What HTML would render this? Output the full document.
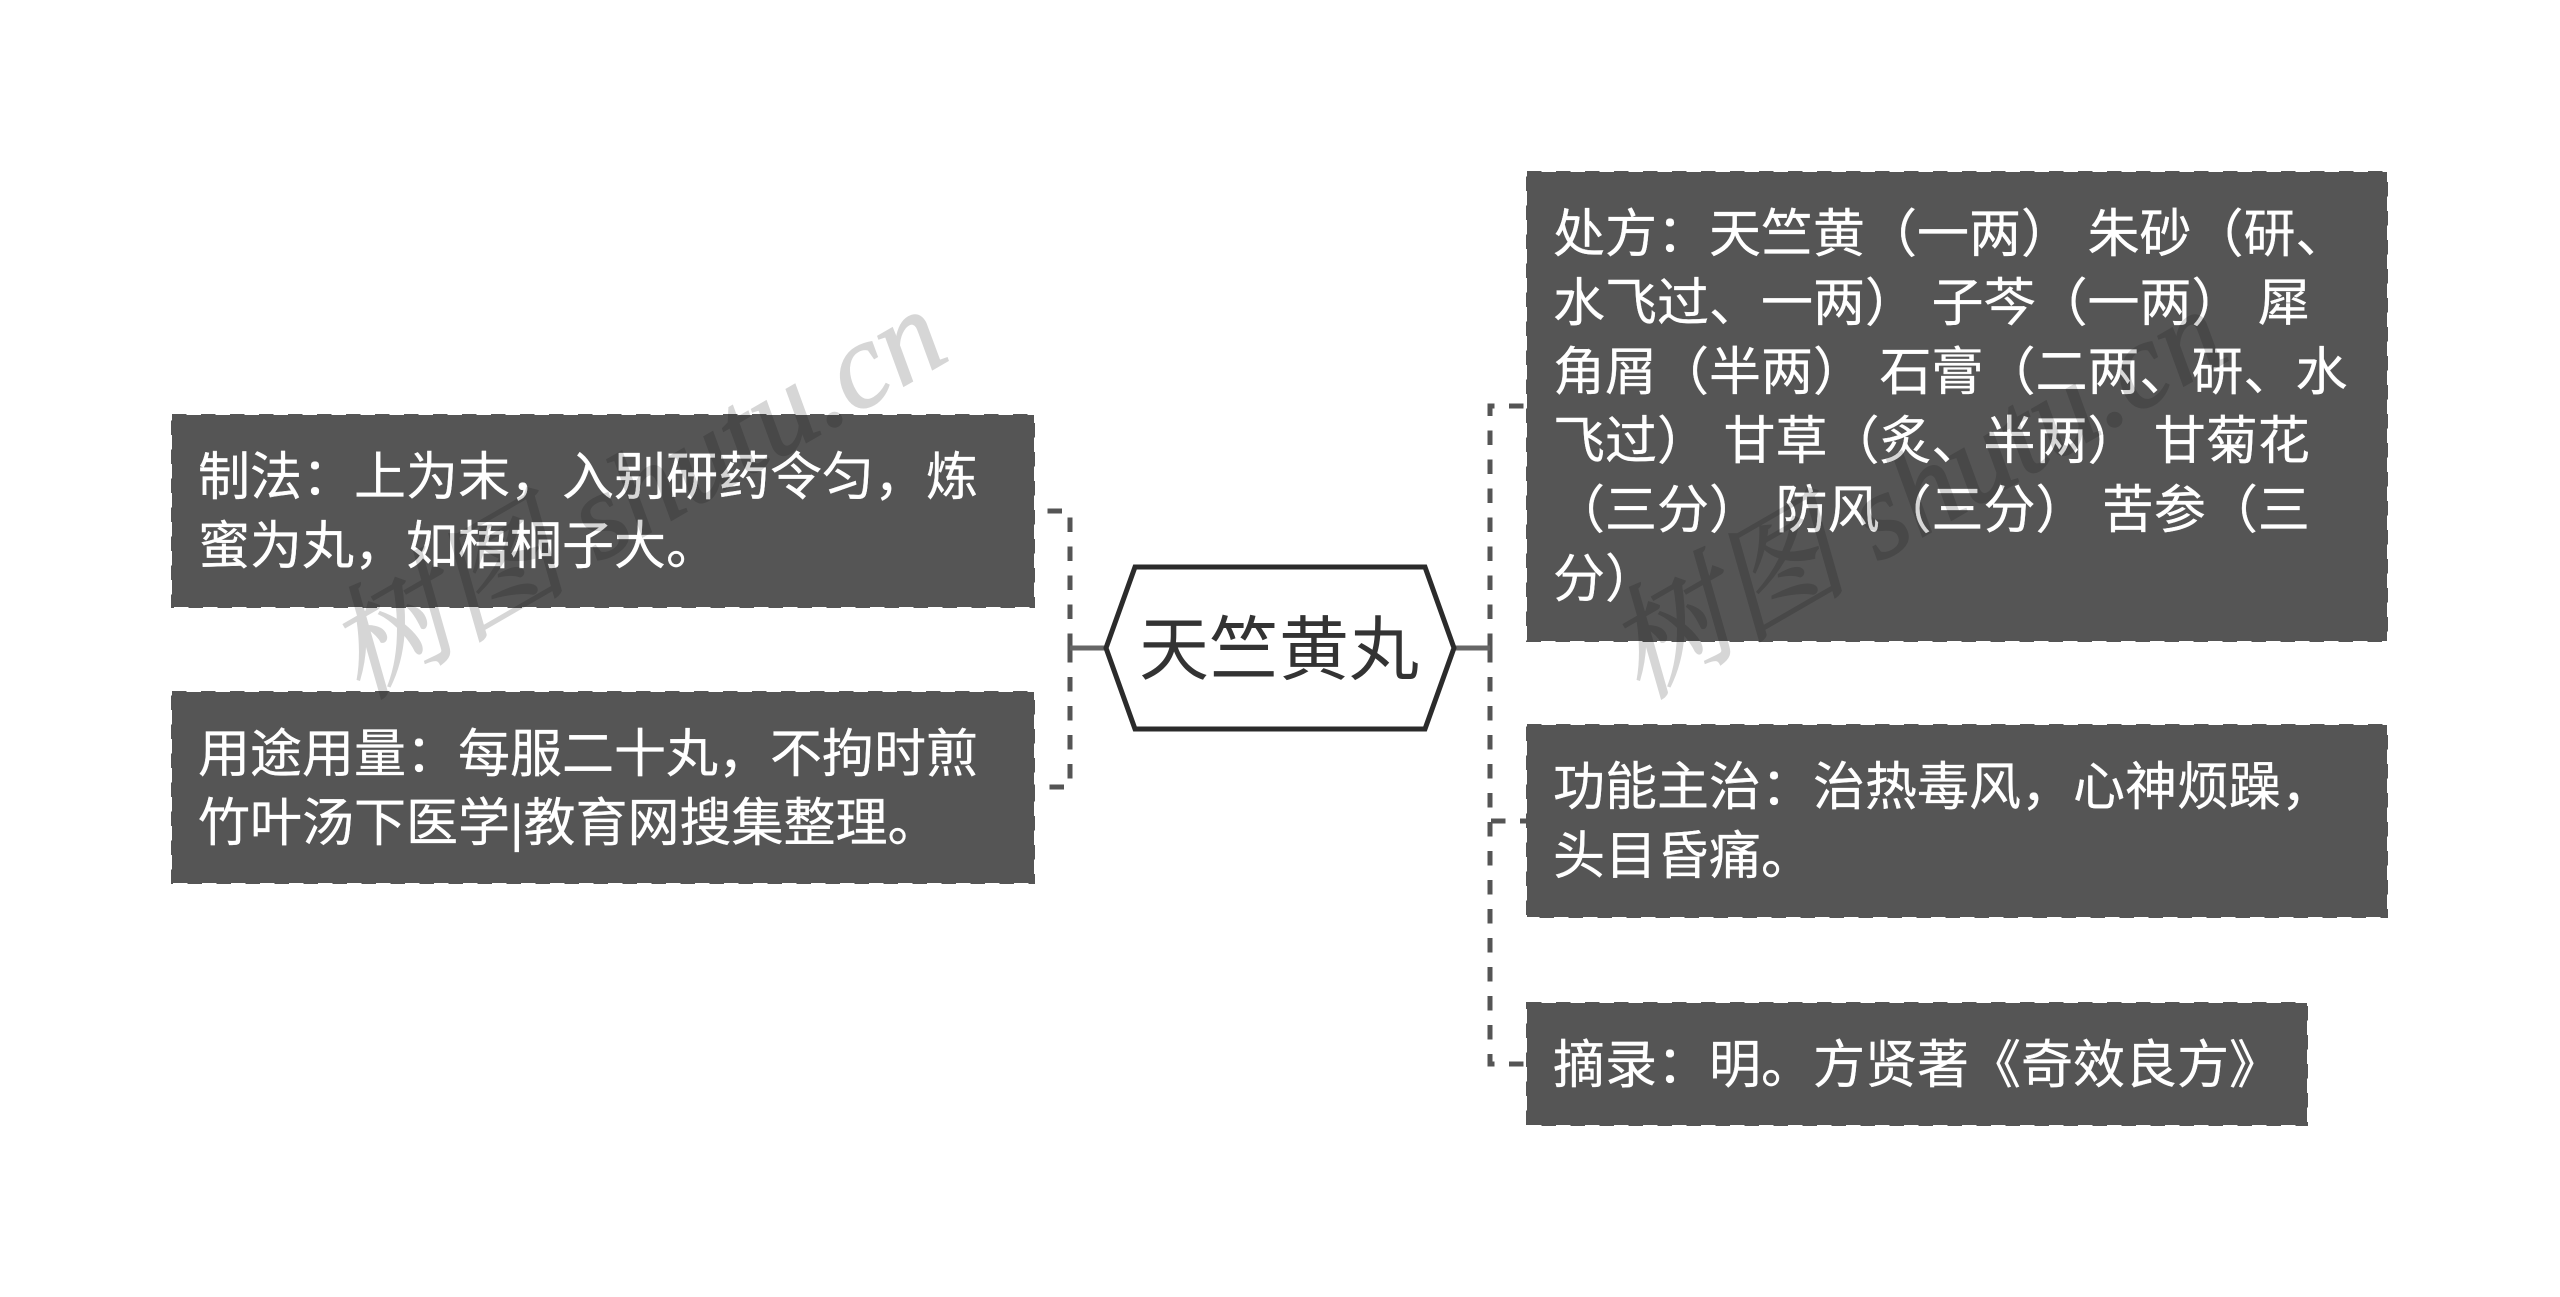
<!DOCTYPE html>
<html lang="zh">
<head>
<meta charset="utf-8">
<title>天竺黄丸</title>
<style>
html,body{margin:0;padding:0;background:#fff;width:2560px;height:1297px;overflow:hidden}
svg{display:block}
text{font-family:"Liberation Sans","Noto Sans CJK SC",sans-serif}
.t{font-size:52px;fill:#fff;stroke:#fff;stroke-width:.3}
.box{fill:#555;stroke:#555;stroke-width:2;stroke-dasharray:14.5 14.5}
.c{fill:none;stroke:#555;stroke-width:5;stroke-dasharray:14.5 14.5}
.wm{font-family:"Liberation Serif","Noto Serif CJK SC",serif;font-style:italic;font-size:122px;fill:#d6d6d6;stroke:#d6d6d6;stroke-width:1.5;mix-blend-mode:multiply}
</style>
</head>
<body>
<svg width="2560" height="1297" viewBox="0 0 2560 1297" xmlns="http://www.w3.org/2000/svg">
<rect width="2560" height="1297" fill="#fff"/>

<!-- connectors -->
<path class="c" d="M1070 648V511H1034"/>
<path class="c" d="M1070 648V787H1034"/>
<path class="c" d="M1490 648V406H1527"/>
<path class="c" d="M1490 648V821H1527"/>
<path class="c" d="M1490 648V1064H1527"/>
<path d="M1070 648H1108M1452 648H1490" stroke="#666" stroke-width="5" fill="none"/>

<!-- boxes -->
<rect class="box" x="172" y="415" width="862" height="192"/>
<rect class="box" x="172" y="692" width="862" height="191"/>
<rect class="box" x="1527" y="172" width="860" height="469"/>
<rect class="box" x="1527" y="725" width="860" height="192"/>
<rect class="box" x="1527" y="1003" width="780" height="122"/>

<!-- central node -->
<polygon points="1106,648 1135,567 1425,567 1454,648 1425,729 1135,729" fill="#fff" stroke="#2b2b2b" stroke-width="5"/>
<text x="1279" y="674" text-anchor="middle" font-size="70" fill="#333">天竺黄丸</text>

<!-- left text -->
<text class="t" x="198" y="495">制法&#65306;上为末&#65292;入别研药令匀&#65292;炼</text>
<text class="t" x="198" y="564">蜜为丸&#65292;如梧桐子大。</text>
<text class="t" x="198" y="772">用途用量&#65306;每服二十丸&#65292;不拘时煎</text>
<text class="t" x="198" y="841">竹叶汤下医学|教育网搜集整理。</text>

<!-- right text -->
<text class="t" x="1553" y="252">处方&#65306;天竺黄&#65288;一两&#65289; 朱砂&#65288;研、</text>
<text class="t" x="1553" y="321">水飞过、一两&#65289; 子芩&#65288;一两&#65289; 犀</text>
<text class="t" x="1553" y="390">角屑&#65288;半两&#65289; 石膏&#65288;二两、研、水</text>
<text class="t" x="1553" y="459">飞过&#65289; 甘草&#65288;炙、半两&#65289; 甘菊花</text>
<text class="t" x="1553" y="528">&#65288;三分&#65289; 防风&#65288;三分&#65289; 苦参&#65288;三</text>
<text class="t" x="1553" y="597">分&#65289;</text>
<text class="t" x="1553" y="805">功能主治&#65306;治热毒风&#65292;心神烦躁&#65292;</text>
<text class="t" x="1553" y="874">头目昏痛。</text>
<text class="t" x="1553" y="1083">摘录&#65306;明。方贤著《奇效良方》</text>

<!-- watermarks -->
<text class="wm" transform="translate(360 700) rotate(-30)">树图 shutu.cn</text>
<text class="wm" transform="translate(1640 700) rotate(-30)">树图 shutu.cn</text>
</svg>
</body>
</html>
